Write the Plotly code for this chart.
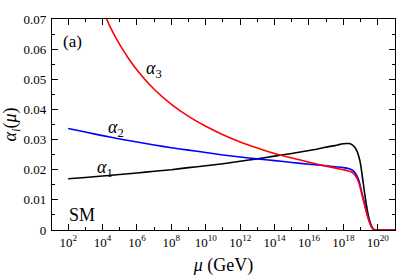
import plotly.graph_objects as go

# log10(mu / GeV) sample points and read-off coupling values
L_a1 = [2, 3, 4, 5, 6, 7, 8, 9, 10, 11, 12, 13, 14, 15, 16, 16.5, 17, 17.5, 17.8, 18.0,
        18.2, 18.35, 18.5, 18.65, 18.8, 18.9, 19.0, 19.1, 19.2, 19.3, 19.4, 19.5, 19.6,
        19.7, 19.8, 19.9, 20.2, 21]
a1 = [0.0170, 0.0174, 0.0179, 0.0184, 0.0189, 0.0195, 0.0200, 0.0207, 0.0213, 0.0220,
      0.0228, 0.0236, 0.0245, 0.0254, 0.0264, 0.0269, 0.0275, 0.0280, 0.0284, 0.0286,
      0.0287, 0.0287, 0.0283, 0.0275, 0.0260, 0.0243, 0.0218, 0.0178, 0.0136, 0.0097,
      0.0063, 0.0036, 0.0017, 0.0006, 0.0001, 0.0, 0.0, 0.0]

L_a2 = [2, 3, 4, 5, 6, 7, 8, 9, 10, 11, 12, 13, 14, 15, 16, 17, 18, 18.3, 18.5, 18.7,
        18.9, 19.0, 19.1, 19.2, 19.3, 19.4, 19.5, 19.6, 19.7, 19.8, 19.9, 20.2, 21]
a2 = [0.0337, 0.0325, 0.0313, 0.0302, 0.0292, 0.0282, 0.0273, 0.0265, 0.0257, 0.0249,
      0.0242, 0.0236, 0.0230, 0.0224, 0.0218, 0.0213, 0.0207, 0.0204, 0.0199, 0.0188,
      0.0164, 0.0142, 0.0118, 0.0094, 0.0071, 0.0049, 0.0030, 0.0015, 0.0005, 0.0001,
      0.0, 0.0, 0.0]

L_a3 = [4, 4.5, 5, 5.5, 6, 7, 8, 9, 10, 11, 12, 13, 14, 15, 16, 17, 18, 18.3, 18.5,
        18.7, 18.9, 19.0, 19.1, 19.2, 19.3, 19.4, 19.5, 19.6, 19.7, 19.8, 19.9, 20.2, 21]
a3 = [0.0730, 0.0667, 0.0615, 0.0570, 0.0531, 0.0467, 0.0417, 0.0377, 0.0344, 0.0316,
      0.0292, 0.0272, 0.0254, 0.0239, 0.0225, 0.0212, 0.0200, 0.0196, 0.0191, 0.0180,
      0.0157, 0.0135, 0.0112, 0.0089, 0.0067, 0.0046, 0.0028, 0.0014, 0.0005, 0.0001,
      0.0, 0.0, 0.0]

major_exp = [2, 4, 6, 8, 10, 12, 14, 16, 18, 20]
minor_exp = [1, 3, 5, 7, 9, 11, 13, 15, 17, 19, 21]
y_ticks = [0, 0.01, 0.02, 0.03, 0.04, 0.05, 0.06, 0.07]

FONT = "Liberation Serif, Times New Roman, serif"

fig = go.Figure()
for L, a, col in [(L_a1, a1, "black"), (L_a2, a2, "#0000ff"), (L_a3, a3, "#ff0000")]:
    fig.add_trace(go.Scatter(x=[10.0 ** v for v in L], y=a, mode="lines",
                             line=dict(color=col, width=1.6, shape="spline", smoothing=0.5),
                             showlegend=False, hoverinfo="skip", cliponaxis=True))

fig.update_layout(
    width=399, height=279,
    margin=dict(l=52, r=4, t=19, b=49),
    paper_bgcolor="white", plot_bgcolor="white",
    font=dict(family=FONT, size=13, color="black"),
    xaxis=dict(
        type="log", range=[1.06, 21.0],
        tickvals=[10.0 ** e for e in major_exp],
        ticktext=["10<sup>%d</sup>" % e for e in major_exp],
        ticks="inside", ticklen=6, tickwidth=1, tickcolor="black",
        showline=True, linecolor="black", linewidth=1.3, mirror="allticks",
        showgrid=False, zeroline=False,
        tickfont=dict(family=FONT, size=13),
        minor=dict(tickvals=[10.0 ** e for e in minor_exp], ticks="inside", ticklen=3,
                   tickcolor="black", tickwidth=1, showgrid=False),
        title=dict(text="<i>μ</i> (GeV)", font=dict(family=FONT, size=18), standoff=9),
    ),
    yaxis=dict(
        range=[0, 0.07],
        tickvals=y_ticks, ticktext=["0", "0.01", "0.02", "0.03", "0.04", "0.05", "0.06", "0.07"],
        ticks="inside", ticklen=6, tickwidth=1, tickcolor="black",
        showline=True, linecolor="black", linewidth=1.3, mirror="allticks",
        showgrid=False, zeroline=False,
        tickfont=dict(family=FONT, size=13),
        ticklabelstandoff=2,
        minor=dict(dtick=0.005, tick0=0, ticks="inside", ticklen=3,
                   tickcolor="black", tickwidth=1, showgrid=False),
        title=dict(text="<i>α<sub>i</sub></i>(<i>μ</i>)", font=dict(family=FONT, size=18), standoff=5),
    ),
)

ann = [
    (2.23, 0.0627, "(a)", 17),
    (2.80, 0.0050, "SM", 18),
    (6.97, 0.0534, "<i>α</i><sub>3</sub>", 18),
    (4.79, 0.0336, "<i>α</i><sub>2</sub>", 18),
    (4.12, 0.0204, "<i>α</i><sub>1</sub>", 18),
]
for lx, ly, txt, sz in ann:
    fig.add_annotation(x=lx, y=ly, xref="x", yref="y", text=txt, showarrow=False,
                       font=dict(family=FONT, size=sz, color="black"),
                       xanchor="center", yanchor="middle")

fig.write_html("out.html", config={"displayModeBar": False},
               post_script="document.body.style.margin='0';document.body.style.padding='0';")
